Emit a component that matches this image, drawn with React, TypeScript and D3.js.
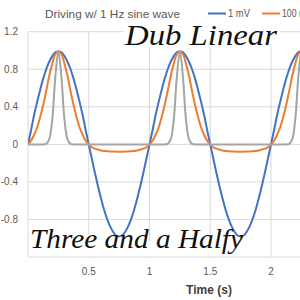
import React from "react";
import * as d3 from "d3";

const title = "Driving w/ 1 Hz sine wave";
const seriesNames = ["1 mV", "100 mV", "1 V"];
const seriesColors = ["#4472C4", "#ED7D31", "#A5A5A5"];
const xTicks = [0.5, 1, 1.5, 2];
const xGrid = [0, 0.5, 1, 1.5, 2, 2.5];
const yGrid = [1.2, 0.8, 0.4, 0, -0.4, -0.8, -1.2];
const yLabels = ["1.2", "0.8", "0.4", "0", "-0.4", "-0.8"];
const xTitle = "Time (s)";
const overlayTop = "Dub Linear";
const overlayBottom = "Three and a Halfy";

// samples every 25 ms
const sampleStep = 0.025;
const mv1 = [
  0, 0.15, 0.31, 0.45, 0.58, 0.7, 0.8, 0.88, 0.94, 0.98, 0.99, 0.98, 0.94, 0.88, 0.8, 0.7, 0.58, 0.45, 0.31, 0.15,
  0, -0.15, -0.3, -0.44, -0.57, -0.69, -0.79, -0.87, -0.93, -0.97, -0.98, -0.97, -0.93, -0.87, -0.79, -0.69, -0.57, -0.44, -0.3, -0.15,
  0, 0.15, 0.31, 0.45, 0.58, 0.7, 0.8, 0.88, 0.94, 0.98, 0.99, 0.98, 0.94, 0.88, 0.8, 0.7, 0.58, 0.45, 0.31, 0.15,
  0, -0.15, -0.3, -0.44, -0.57, -0.69, -0.79, -0.87, -0.93, -0.97, -0.98, -0.97, -0.93, -0.87, -0.79, -0.69, -0.57, -0.44, -0.3, -0.15,
  0, 0.15, 0.31, 0.45, 0.58, 0.7, 0.8, 0.88, 0.94, 0.98, 0.99, 0.98, 0.94, 0.88, 0.8, 0.7, 0.58, 0.45, 0.31, 0.15,
  0,
];
const mv100 = [
  0, 0.04, 0.1, 0.18, 0.29, 0.42, 0.57, 0.73, 0.86, 0.96, 0.99, 0.96, 0.86, 0.73, 0.57, 0.42, 0.29, 0.18, 0.1, 0.04,
  0, -0.03, -0.045, -0.055, -0.065, -0.07, -0.072, -0.075, -0.076, -0.077, -0.077, -0.077, -0.076, -0.075, -0.072, -0.07, -0.065, -0.055, -0.045, -0.03,
  0, 0.04, 0.1, 0.18, 0.29, 0.42, 0.57, 0.73, 0.86, 0.96, 0.99, 0.96, 0.86, 0.73, 0.57, 0.42, 0.29, 0.18, 0.1, 0.04,
  0, -0.03, -0.045, -0.055, -0.065, -0.07, -0.072, -0.075, -0.076, -0.077, -0.077, -0.077, -0.076, -0.075, -0.072, -0.07, -0.065, -0.055, -0.045, -0.03,
  0, 0.04, 0.1, 0.18, 0.29, 0.42, 0.57, 0.73, 0.86, 0.96, 0.99, 0.96, 0.86, 0.73, 0.57, 0.42, 0.29, 0.18, 0.1, 0.04,
  0,
];
const v1 = [
  0, 0, 0, 0, 0, 0, 0.006, 0.056, 0.27, 0.72, 0.99, 0.72, 0.27, 0.056, 0.006, 0, 0, 0, 0, 0,
  0, 0, 0, 0, 0, 0, 0, 0, 0, 0, 0, 0, 0, 0, 0, 0, 0, 0, 0, 0,
  0, 0, 0, 0, 0, 0, 0.006, 0.056, 0.27, 0.72, 0.99, 0.72, 0.27, 0.056, 0.006, 0, 0, 0, 0, 0,
  0, 0, 0, 0, 0, 0, 0, 0, 0, 0, 0, 0, 0, 0, 0, 0, 0, 0, 0, 0,
  0, 0, 0, 0, 0, 0, 0.006, 0.056, 0.27, 0.72, 0.99, 0.72, 0.27, 0.056, 0.006, 0, 0, 0, 0, 0,
  0,
];

const width = 300;
const height = 300;
const plotLeft = 28;
const plotTop = 31.7;
const plotBottom = 257.1;
const pxPerSecond = 121.5;

const App: React.FC = () => {
  const x = d3
    .scaleLinear()
    .domain([0, 2.5])
    .range([plotLeft, plotLeft + 2.5 * pxPerSecond]);
  const y = d3.scaleLinear().domain([-1.2, 1.2]).range([plotBottom, plotTop]);

  const line = d3
    .line<number>()
    .x((_, i) => x(i * sampleStep))
    .y((d) => y(d))
    .curve(d3.curveCatmullRom);

  const series = [mv1, mv100, v1];
  const font = "'Liberation Sans', Arial, sans-serif";
  const script = "'Liberation Serif', 'DejaVu Serif', serif";

  return (
    <svg
      width={width}
      height={height}
      style={{ position: "absolute", left: 0, top: 0, background: "#fff" }}
    >
      <defs>
        <clipPath id="plot-clip">
          <rect x={plotLeft} y={0} width={width} height={height} />
        </clipPath>
      </defs>
      <rect width={width} height={height} fill="#fff" />

      {/* grid */}
      {yGrid.map((v) => (
        <line
          key={"h" + v}
          x1={plotLeft}
          x2={width}
          y1={y(v)}
          y2={y(v)}
          stroke="#d9d9d9"
          strokeWidth={1}
        />
      ))}
      {xGrid.map((v) => (
        <line
          key={"v" + v}
          x1={x(v)}
          x2={x(v)}
          y1={plotTop}
          y2={plotBottom}
          stroke="#d9d9d9"
          strokeWidth={1}
        />
      ))}

      {/* y labels */}
      {yLabels.map((s, i) => (
        <text
          key={s}
          x={18}
          y={y(yGrid[i]) + 3.5}
          textAnchor="end"
          fontFamily={font}
          fontSize={10}
          fill="#595959"
        >
          {s}
        </text>
      ))}

      {/* x labels */}
      {xTicks.map((v) => (
        <text
          key={"x" + v}
          x={x(v)}
          y={275}
          textAnchor="middle"
          fontFamily={font}
          fontSize={10}
          fill="#595959"
        >
          {v}
        </text>
      ))}
      <text
        x={209}
        y={294}
        textAnchor="middle"
        fontFamily={font}
        fontSize={12}
        fontWeight="bold"
        fill="#404040"
      >
        {xTitle}
      </text>

      {/* series */}
      <g clipPath="url(#plot-clip)">
        {series.map((d, i) => (
          <path
            key={seriesNames[i]}
            d={line(d) || ""}
            fill="none"
            stroke={seriesColors[i]}
            strokeWidth={2}
            strokeLinejoin="round"
          />
        ))}
      </g>

      {/* title + legend */}
      <text
        x={45}
        y={18}
        fontFamily={font}
        fontSize={11.5}
        fill="#595959"
        textLength={135}
        lengthAdjust="spacingAndGlyphs"
      >
        {title}
      </text>
      {[0, 1].map((i) => {
        const lx = 208 + i * 54;
        return (
          <g key={"lg" + i}>
            <line
              x1={lx}
              x2={lx + 18}
              y1={13.5}
              y2={13.5}
              stroke={seriesColors[i]}
              strokeWidth={2}
            />
            <text
              x={lx + 20}
              y={17}
              fontFamily={font}
              fontSize={10}
              fill="#595959"
              textLength={i === 0 ? 22 : 30}
              lengthAdjust="spacingAndGlyphs"
            >
              {seriesNames[i]}
            </text>
          </g>
        );
      })}

      {/* handwritten overlays */}
      <rect x={124} y={22} width={156} height={25} fill="#fff" />
      <text
        x={125}
        y={45}
        fontFamily={script}
        fontStyle="italic"
        fontSize={30}
        fill="#111"
        textLength={152}
        lengthAdjust="spacingAndGlyphs"
      >
        {overlayTop}
      </text>
      <rect x={29} y={241} width={217} height={15} fill="#fff" />
      <text
        x={30}
        y={248}
        fontFamily={script}
        fontStyle="italic"
        fontSize={28}
        fill="#111"
        textLength={213}
        lengthAdjust="spacingAndGlyphs"
      >
        {overlayBottom}
      </text>
    </svg>
  );
};

export default App;
